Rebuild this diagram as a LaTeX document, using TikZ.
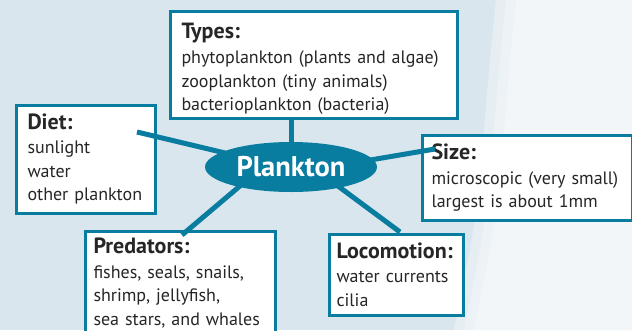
\documentclass[tikz,border=0pt]{standalone}
\usepackage{fontspec}
\setmainfont{PT Sans}
\usetikzlibrary{shapes.geometric, calc}
\definecolor{sea}{RGB}{9,125,160}
\definecolor{mist}{RGB}{218,230,238}
\definecolor{foam}{RGB}{243,246,248}
\newcommand{\hd}[1]{{\fontsize{22}{24}\selectfont\bfseries #1}}

\begin{document}
\begin{tikzpicture}[x=1pt, y=-1pt,
  info/.style={draw=sea, line width=3pt, fill=white, anchor=north west, align=left,
               inner ysep=0pt, text=black!85, font=\fontsize{18}{23.5}\selectfont},
  hub/.style={ellipse, fill=sea, inner sep=0pt, minimum width=172pt, minimum height=50pt,
              text=white, font=\fontsize{28.5}{30}\selectfont\bfseries},
  spoke/.style={draw=sea, line width=5pt}
]
% background
\useasboundingbox (0,0) rectangle (632,330);
\fill[mist] (0,0) rectangle (632,330);
\fill[foam, opacity=0.5] (496,0) .. controls (486,90) and (482,180) .. (470,250)
  .. controls (462,290) .. (454,330) -- (632,330) -- (632,0) -- cycle;
\fill[foam, opacity=0.6] (506,0) .. controls (496,90) and (492,180) .. (480,250)
  .. controls (472,290) .. (464,330) -- (632,330) -- (632,0) -- cycle;
\fill[foam] (516,0) .. controls (506,90) and (502,180) .. (490,250)
  .. controls (482,290) .. (474,330) -- (632,330) -- (632,0) -- cycle;
% boxes
\node[info, inner xsep=11.5pt, text width=264pt, minimum height=107pt] (types) at (168.5,9.5)
  {\rule{0pt}{24pt}\hd{Types:}\\[2pt] phytoplankton (plants and algae)\\ zooplankton (tiny animals)\\ bacterioplankton (bacteria)};
\node[info, inner xsep=11.5pt, text width=116pt, minimum height=108pt] (diet) at (14.5,103.5)
  {\hd{Diet:}\\[1pt] sunlight\\ water\\ other plankton};
\node[info, inner xsep=9.5pt, text width=191pt, minimum height=85pt] (size) at (420.5,133.5)
  {\hd{Size:}\\[1.5pt] microscopic (very small)\\ largest is about 1mm};
\node[info, inner xsep=8.5pt, text width=173pt, minimum height=104pt] (predators) at (83.5,229.5)
  {\hd{Predators:}\\[1.5pt] fishes, seals, snails,\\ shrimp, jellyfish,\\ sea stars, and whales};
\node[info, inner xsep=7.5pt, text width=119pt, minimum height=81pt] (locomotion) at (327.5,232.5)
  {\hd{Locomotion:}\\[1pt] water currents\\ cilia};
% centre
\node[hub] (plankton) at (291,167) {Plankton};
% spokes
\coordinate (dietend) at (137,132);
\coordinate (sizeend) at (435,149);
\coordinate (predend) at (182,235);
\coordinate (locoend) at (400,232);
\draw[spoke] (types.south -| plankton.north) -- ($(plankton.north)!4pt!(plankton.center)$);
\draw[spoke] (dietend) -- ($(plankton.168)!4pt!(plankton.center)$);
\draw[spoke] (sizeend) -- ($(plankton.5)!4pt!(plankton.center)$);
\draw[spoke] (predend) -- ($(plankton.200)!4pt!(plankton.center)$);
\draw[spoke] (locoend) -- ($(plankton.338)!4pt!(plankton.center)$);
\end{tikzpicture}
\end{document}
